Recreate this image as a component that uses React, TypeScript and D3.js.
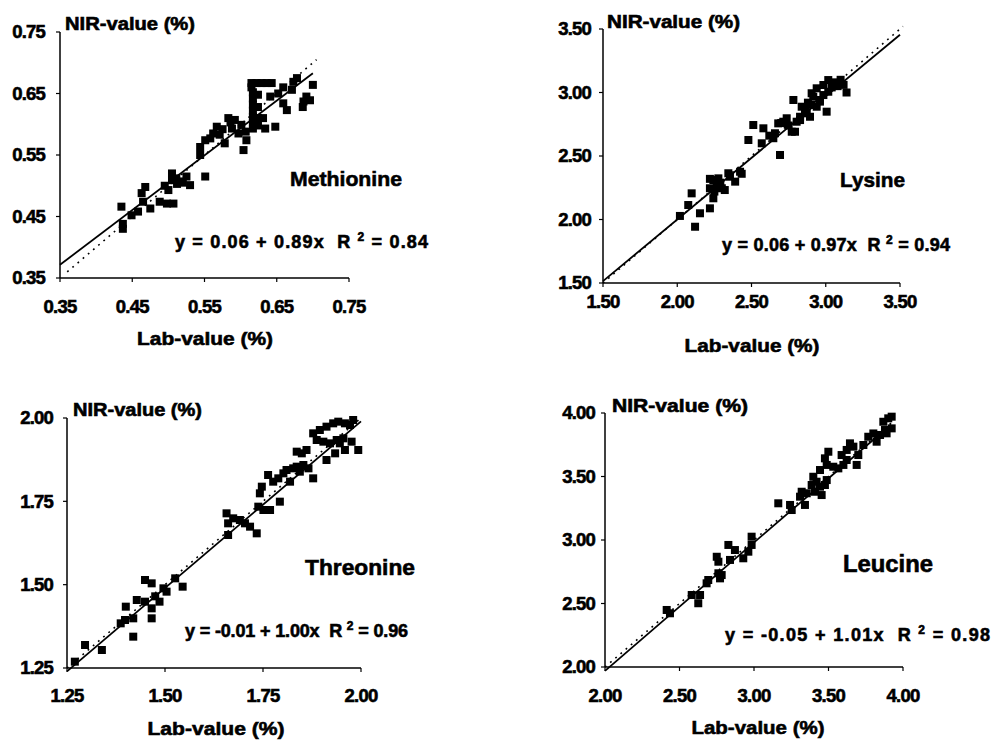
import React from 'react';
import * as d3 from 'd3';

// ---------- DATA ----------
const metLab = [0.435,0.437,0.437,0.449,0.458,0.465,0.463,0.468,0.475,0.488,0.498,0.507,0.500,0.505,0.511,0.518,0.525,0.530,0.551,0.505,0.495,0.520,0.512,
  0.544,0.544,0.551,0.558,0.567,0.571,0.578,0.583,0.588,0.592,0.597,0.601,0.604,0.607,0.608,0.562,0.586,0.575,
  0.615,0.622,0.629,0.636,0.643,0.615,0.617,0.617,0.617,0.617,0.617,0.617,0.617,0.624,0.624,0.624,0.624,
  0.631,0.634,0.648,0.641,0.652,0.659,0.664,0.671,0.673,0.678,0.687,0.691,0.700,0.696,0.686,0.659];
const metNir = [0.466,0.438,0.430,0.452,0.458,0.474,0.488,0.498,0.463,0.474,0.471,0.471,0.493,0.509,0.512,0.507,0.515,0.501,0.515,0.520,0.500,0.505,0.503,
  0.550,0.563,0.574,0.577,0.596,0.583,0.569,0.610,0.593,0.607,0.585,0.599,0.558,0.588,0.574,0.585,0.603,0.592,
  0.667,0.667,0.667,0.667,0.667,0.660,0.652,0.642,0.632,0.622,0.612,0.602,0.593,0.648,0.628,0.610,0.598,
  0.610,0.593,0.596,0.645,0.650,0.634,0.623,0.656,0.669,0.675,0.637,0.645,0.664,0.639,0.628,0.660];

const lysLab = [2.120,2.018,2.074,2.097,2.153,2.220,2.243,2.220,2.243,2.277,2.300,2.320,2.355,2.390,2.423,2.344,2.220,2.266,2.250,2.290,2.434,
  2.479,2.512,2.580,2.569,2.692,2.658,2.647,2.680,2.714,2.737,2.771,2.782,2.804,2.827,2.838,2.872,2.894,2.905,2.916,2.939,2.961,2.984,3.006,3.017,
  2.905,2.939,2.984,3.017,2.961,2.827,2.793,2.700,2.750,2.860,2.880,3.140,3.050,3.080,3.100,3.120,3.040,2.620];
const lysNir = [1.943,2.028,2.114,2.206,2.049,2.088,2.167,2.246,2.311,2.324,2.246,2.232,2.337,2.298,2.376,2.364,2.320,2.270,2.220,2.290,2.360,
  2.626,2.744,2.718,2.600,2.508,2.679,2.640,2.757,2.770,2.797,2.691,2.941,2.770,2.809,2.888,2.836,2.809,2.902,2.967,2.888,2.928,2.980,2.849,3.006,
  2.994,3.033,3.059,3.098,2.941,2.783,2.691,2.760,2.740,2.870,2.920,3.000,3.080,3.050,3.100,3.060,3.040,2.660];

const thrLab = [1.270,1.296,1.339,1.400,1.387,1.398,1.419,1.419,1.449,1.466,1.428,1.449,1.466,1.466,1.486,1.496,1.504,1.526,1.545,1.475,
  1.657,1.661,1.674,1.691,1.704,1.661,1.717,1.734,1.738,1.751,1.768,1.793,1.742,1.747,1.763,1.776,1.789,1.802,1.810,1.819,1.827,1.836,
  1.844,1.853,1.866,1.836,1.849,1.861,1.878,1.887,1.904,1.921,1.938,1.895,1.912,1.929,1.942,1.959,1.972,1.980,1.878,1.912,1.934,1.946,1.959,1.976,1.993,1.955];
const thrNir = [1.269,1.319,1.304,1.434,1.384,1.394,1.399,1.344,1.514,1.504,1.454,1.449,1.429,1.399,1.449,1.489,1.479,1.519,1.494,1.465,
  1.714,1.684,1.699,1.694,1.684,1.649,1.674,1.654,1.734,1.724,1.724,1.749,1.774,1.794,1.829,1.809,1.819,1.834,1.844,1.809,1.849,1.854,
  1.839,1.859,1.849,1.899,1.894,1.904,1.819,1.934,1.929,1.924,1.934,1.964,1.974,1.984,1.989,1.984,1.979,1.994,1.954,1.874,1.894,1.924,1.904,1.929,1.904,1.939];

const leuLab = [2.414,2.436,2.582,2.626,2.638,2.693,2.682,2.761,2.783,2.772,2.750,2.761,2.828,2.839,2.872,2.928,2.962,2.984,2.984,
  3.163,3.253,3.242,3.309,3.342,3.354,3.320,3.387,3.420,3.443,3.476,3.488,3.409,3.454,3.398,3.443,3.488,3.499,3.476,
  3.532,3.566,3.600,3.588,3.622,3.644,3.667,3.700,3.689,3.734,3.767,3.801,3.823,3.846,3.879,3.868,3.901,3.924,3.890,3.924,3.622];
const leuNir = [2.449,2.423,2.567,2.502,2.567,2.685,2.659,2.738,2.724,2.698,2.868,2.829,2.961,2.843,2.921,2.856,2.908,3.026,2.961,
  3.289,3.236,3.276,3.341,3.276,3.368,3.380,3.433,3.459,3.420,3.433,3.472,3.380,3.354,3.498,3.551,3.591,3.695,3.643,
  3.577,3.564,3.591,3.669,3.709,3.761,3.735,3.669,3.591,3.748,3.813,3.839,3.774,3.827,3.866,3.931,3.958,3.971,3.840,3.879,3.630];

const amino = ['Methionine', 'Lysine', 'Threonine', 'Leucine'];
const eqText = ['y = 0.06 + 0.89x', 'y = 0.06 + 0.97x', 'y = -0.01 + 1.00x', 'y = -0.05 + 1.01x'];
const r2Text = ['0.84', '0.94', '0.96', '0.98'];
const intercepts = [0.06, 0.06, -0.01, -0.05];
const slopes = [0.89, 0.97, 1.00, 1.01];
const xTicks = [[0.35, 0.45, 0.55, 0.65, 0.75], [1.5, 2.0, 2.5, 3.0, 3.5], [1.25, 1.5, 1.75, 2.0], [2.0, 2.5, 3.0, 3.5, 4.0]];
const yTicks = xTicks;
const fitRange = [[0.35, 0.70], [1.5, 3.5], [1.25, 2.0], [2.0, 3.92]];
const idRange = [[0.36, 0.705], [1.5, 3.52], [1.25, 2.0], [2.0, 3.92]];
const yTitle = 'NIR-value (%)';
const xTitle = 'Lab-value (%)';

// ---------- LAYOUT ----------
const layouts = [
  { xr: [60, 349], yr: [278, 32], ytEnd: 45, xtBase: 313, lab: [205, 345, 136], nir: [65, 30, 130], sp: [290, 186, 21, 112], eq: [175, 248, 253] },
  { xr: [603, 900], yr: [283, 29], ytEnd: 591, xtBase: 308, lab: [752, 352, 135], nir: [607, 28, 133], sp: [840, 187, 21, 65], eq: [722, 251, 228] },
  { xr: [67, 361], yr: [668, 418], ytEnd: 53, xtBase: 702, lab: [216, 735, 137], nir: [73, 416, 129], sp: [305, 575, 22, 110], eq: [185, 637, 223] },
  { xr: [605, 903], yr: [667, 413], ytEnd: 595, xtBase: 702, lab: [758, 734, 133], nir: [612, 412, 136], sp: [843, 572, 23, 90], eq: [725, 641, 265] },
];

const datasets = [[metLab, metNir], [lysLab, lysNir], [thrLab, thrNir], [leuLab, leuNir]];

const FONT = "'Liberation Sans', Arial, Helvetica, sans-serif";
const TS = { stroke: '#000', strokeWidth: 0.6 };

function Panel({ i }: { i: number }) {
  const L = layouts[i];
  const ticks = xTicks[i];
  const dom = [ticks[0], ticks[ticks.length - 1]];
  const x = d3.scaleLinear().domain(dom).range(L.xr);
  const y = d3.scaleLinear().domain(dom).range(L.yr);
  const [lab, nir] = datasets[i];
  const fmt = d3.format('.2f');
  const line = d3.line<[number, number]>().x(d => x(d[0])).y(d => y(d[1]));
  const fitPts: [number, number][] = fitRange[i].map(v => [v, intercepts[i] + slopes[i] * v]);
  const idPts: [number, number][] = idRange[i].map(v => [v, v]);
  const s = 8;
  return (
    <g fontFamily={FONT} fontWeight="bold" fill="#000">
      {/* axes */}
      <line x1={L.xr[0]} x2={L.xr[0]} y1={L.yr[0]} y2={L.yr[1]} stroke="#000" strokeWidth={1.5} />
      <line x1={L.xr[0]} x2={L.xr[1]} y1={L.yr[0]} y2={L.yr[0]} stroke="#000" strokeWidth={1.5} />
      {yTicks[i].map(t => (
        <g key={'y' + t}>
          <line x1={L.xr[0] - 4} x2={L.xr[0]} y1={y(t)} y2={y(t)} stroke="#000" strokeWidth={1.2} />
          <text x={L.ytEnd} y={y(t)} dy="0.35em" textAnchor="end" fontSize={18.5} letterSpacing={-0.8} {...TS}>{fmt(t)}</text>
        </g>
      ))}
      {ticks.map(t => (
        <g key={'x' + t}>
          <line x1={x(t)} x2={x(t)} y1={L.yr[0]} y2={L.yr[0] + 4} stroke="#000" strokeWidth={1.2} />
          <text x={x(t)} y={L.xtBase} textAnchor="middle" fontSize={18.5} letterSpacing={-0.8} {...TS}>{fmt(t)}</text>
        </g>
      ))}
      {/* lines */}
      <path d={line(idPts) || ''} fill="none" stroke="#000" strokeWidth={1.6} strokeDasharray="1.8,5" />
      <path d={line(fitPts) || ''} fill="none" stroke="#000" strokeWidth={1.8} />
      {/* points */}
      {lab.map((v, k) => (
        <rect key={k} x={x(v) - s / 2} y={y(nir[k]) - s / 2} width={s} height={s} fill="#000" />
      ))}
      {/* texts */}
      <text x={L.nir[0]} y={L.nir[1]} fontSize={18} textLength={L.nir[2]} lengthAdjust="spacingAndGlyphs" {...TS}>{yTitle}</text>
      <text x={L.lab[0] - L.lab[2] / 2} y={L.lab[1]} fontSize={19} textLength={L.lab[2]} lengthAdjust="spacingAndGlyphs" {...TS}>{xTitle}</text>
      <text x={L.sp[0]} y={L.sp[1]} fontSize={L.sp[2]} textLength={L.sp[3]} lengthAdjust="spacingAndGlyphs" {...TS}>{amino[i]}</text>
      <text x={L.eq[0]} y={L.eq[1]} fontSize={18} textLength={L.eq[2]} lengthAdjust="spacing" style={{ whiteSpace: 'pre' }} {...TS}>
        {eqText[i] + '  R '}
        <tspan dy={-7} fontSize={12}>2</tspan>
        <tspan dy={7}>{' = ' + r2Text[i]}</tspan>
      </text>
    </g>
  );
}

export default function App() {
  return (
    <svg width={995} height={740} style={{ position: 'absolute', left: 0, top: 0, background: '#fff' }}>
      <rect width={995} height={740} fill="#fff" />
      {[0, 1, 2, 3].map(i => <Panel key={i} i={i} />)}
    </svg>
  );
}
